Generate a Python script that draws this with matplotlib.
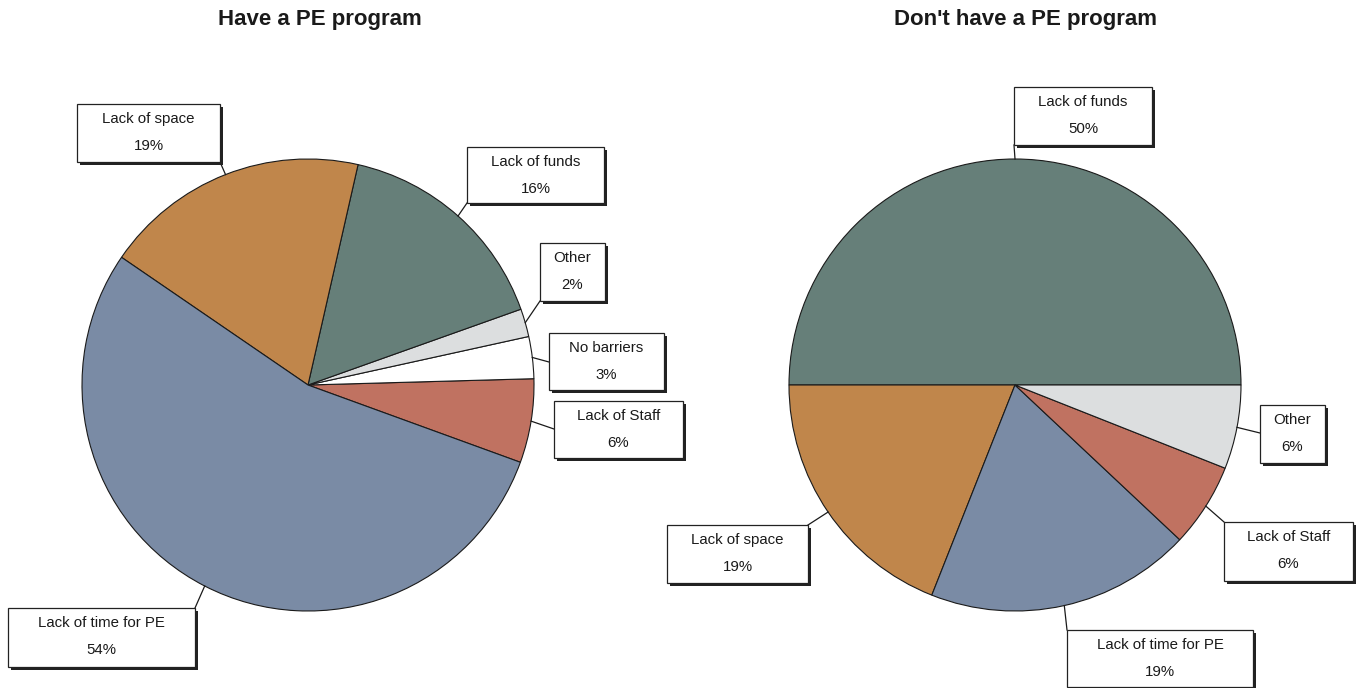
import numpy as np
import matplotlib
matplotlib.use("Agg")
import matplotlib.pyplot as plt
from matplotlib.patches import Rectangle

plt.rcParams['font.family'] = ['Liberation Sans', 'DejaVu Sans']

# ---- data ----
left_title = "Have a PE program"
left_labels = ["Lack of Staff", "No barriers", "Other", "Lack of funds", "Lack of space", "Lack of time for PE"]
left_values = [6, 3, 2, 16, 19, 54]

right_title = "Don't have a PE program"
right_labels = ["Lack of funds", "Lack of space", "Lack of time for PE", "Lack of Staff", "Other"]
right_values = [50, 19, 19, 6, 6]

COLORS = {
    "Lack of funds": "#667f79",
    "Lack of space": "#c0864b",
    "Lack of time for PE": "#7a8ba5",
    "Lack of Staff": "#c07261",
    "Other": "#dcdedf",
    "No barriers": "#ffffff",
}

W, H = 1362, 688
fig = plt.figure(figsize=(W / 100, H / 100), dpi=100)
ax = fig.add_axes([0, 0, 1, 1])

def Y(y):
    return H - y

# box layouts (pixel coords, top-left origin): x0, y0, x1, y1, anchor point on box
left_boxes = {
    "Lack of space": ((77, 104, 220, 162), (220, 162)),
    "Lack of funds": ((467, 147, 604, 203), (467, 203)),
    "Other": ((540, 243, 605, 301), (540, 301)),
    "No barriers": ((549, 333, 664, 390), (549, 362)),
    "Lack of Staff": ((554, 401, 683, 458), (554, 429)),
    "Lack of time for PE": ((8, 608, 195, 667), (195, 608)),
}
right_boxes = {
    "Lack of funds": ((1014, 87, 1152, 145), (1014, 145)),
    "Other": ((1260, 405, 1325, 463), (1260, 433)),
    "Lack of Staff": ((1224, 522, 1353, 581), (1224, 522)),
    "Lack of space": ((667, 525, 808, 583), (808, 525)),
    "Lack of time for PE": ((1067, 630, 1253, 687), (1067, 630)),
}

def draw_pie(labels, values, center, radius, startangle, boxes, title, title_x):
    cx, cy = center
    wedges, _ = ax.pie(values, colors=[COLORS[l] for l in labels], startangle=startangle,
                       counterclock=True, center=(cx, Y(cy)), radius=radius,
                       wedgeprops=dict(edgecolor="#1a1a1a", linewidth=0.8))
    total = sum(values)
    for w, lab, v in zip(wedges, labels, values):
        mid = np.deg2rad((w.theta1 + w.theta2) / 2)
        px = cx + radius * np.cos(mid)
        py = Y(cy) + radius * np.sin(mid)
        (x0, y0, x1, y1), (ax_, ay_) = boxes[lab]
        ax.plot([ax_, px], [Y(ay_), py], color="#1a1a1a", lw=0.9, zorder=3)
        # shadow
        ax.add_patch(Rectangle((x0 + 2.5, Y(y1) - 2.5), x1 - x0, y1 - y0,
                               facecolor="#222222", edgecolor="none", zorder=4))
        ax.add_patch(Rectangle((x0, Y(y1)), x1 - x0, y1 - y0,
                               facecolor="white", edgecolor="#222222", lw=0.9, zorder=5))
        xc = (x0 + x1) / 2
        ax.text(xc, Y(y0 + 15), lab, ha="center", va="center", fontsize=10.8,
                color="#1a1a1a", zorder=6)
        ax.text(xc, Y(y0 + 42), f"{round(100 * v / total)}%", ha="center", va="center",
                fontsize=10.8, color="#1a1a1a", zorder=6)
    ax.text(title_x, Y(20), title, ha="center", va="center", fontsize=16,
            fontweight="bold", color="#1a1a1a")

draw_pie(left_labels, left_values, (308, 385), 226, -20, left_boxes, left_title, 320)
draw_pie(right_labels, right_values, (1015, 385), 226, 0, right_boxes, right_title, 1026)

ax.set_xlim(0, W)
ax.set_ylim(0, H)
ax.set_aspect("auto")
ax.axis("off")

fig.savefig("out.png", dpi=100)
